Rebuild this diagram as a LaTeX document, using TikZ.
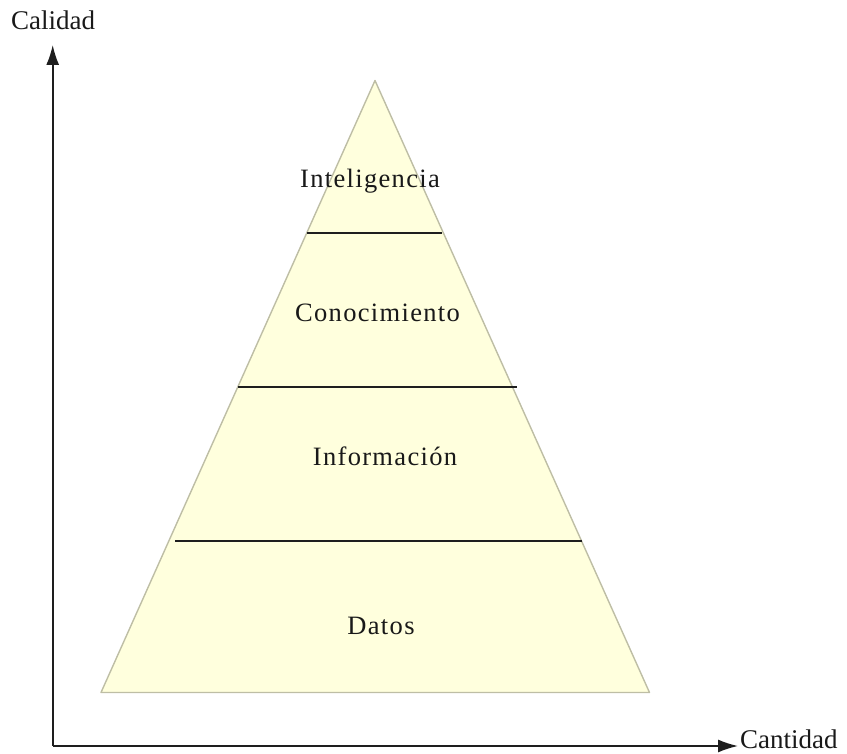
\documentclass[tikz,border=0pt]{standalone}
\usepackage{fontspec}
\setmainfont{Liberation Serif}
\newfontfamily\lblfont[LetterSpace=5]{Liberation Serif}
\usetikzlibrary{arrows.meta}
\definecolor{pyrfill}{RGB}{255,255,221}
\definecolor{pyredge}{RGB}{190,190,165}
\definecolor{axiscol}{RGB}{30,30,30}
\tikzset{
  axisline/.style={draw=axiscol, line width=1.6pt, -{Latex[length=20pt,width=13pt]}},
  divline/.style={draw=axiscol, line width=1.6pt},
  lvl/.style={anchor=base, inner sep=0pt, font=\lblfont\fontsize{26.5pt}{30pt}\selectfont, text=black!90},
  axlbl/.style={anchor=base west, inner sep=0pt, font=\fontsize{27pt}{30pt}\selectfont, text=black!90}
}
\begin{document}
\begin{tikzpicture}[x=1pt,y=-1pt]
\useasboundingbox (0,0) rectangle (847,754);
% pyramid
\coordinate (apex) at (375,80.5);
\coordinate (bl) at (101,692.5);
\coordinate (br) at (649.5,692.5);
\fill[pyrfill] (apex) -- (bl) -- (br) -- cycle;
\draw[pyredge, line width=1.4pt, line join=round] (apex) -- (bl) -- (br) -- cycle;
% dividers
\coordinate (d1l) at (307,233); \coordinate (d1r) at (442,233);
\coordinate (d2l) at (238,387); \coordinate (d2r) at (517,387);
\coordinate (d3l) at (175,541); \coordinate (d3r) at (581.5,541);
\draw[divline] (d1l) -- (d1r);
\draw[divline] (d2l) -- (d2r);
\draw[divline] (d3l) -- (d3r);
% labels
\node[lvl] (intel) at (370,188) {Inteligencia};
\node[lvl] (conoc) at (377.5,322) {Conocimiento};
\node[lvl] (info) at (385,465) {Información};
\node[lvl] (datos) at (381,634) {Datos};
% axes
\coordinate (origin) at (52.7,746);
\coordinate (ytip) at (52.7,45);
\coordinate (xtip) at (738,746);
\draw[axisline] (origin) -- (ytip);
\draw[axisline] (origin) -- (xtip);
\node[axlbl] (calidad) at (11,30) {Calidad};
\node[axlbl] (cantidad) at (740,748) {Cantidad};
\end{tikzpicture}
\end{document}
